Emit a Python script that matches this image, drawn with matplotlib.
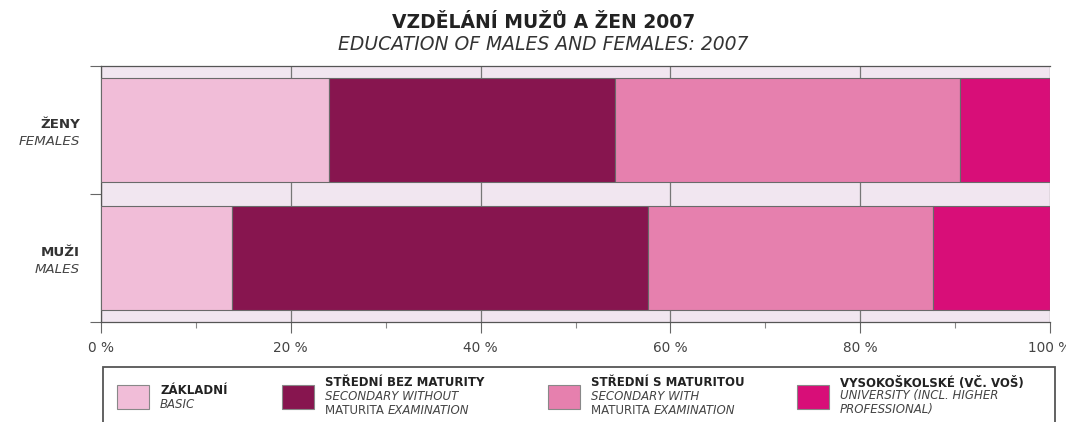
import matplotlib.pyplot as plt
from matplotlib.patches import Rectangle
from matplotlib.ticker import MultipleLocator

plt.rcParams['font.family'] = ['DejaVu Sans']

# Data (shares in %)
groups = ["MUŽI", "ŽENY"]
groups_en = ["MALES", "FEMALES"]
categories = ["ZÁKLADNÍ", "STŘEDNÍ BEZ MATURITY", "STŘEDNÍ S MATURITOU", "VYSOKOŠKOLSKÉ (VČ. VOŠ)"]
categories_en = [["BASIC"],
                 ["SECONDARY WITHOUT", "MATURITA EXAMINATION"],
                 ["SECONDARY WITH", "MATURITA EXAMINATION"],
                 ["UNIVERSITY (INCL. HIGHER", "PROFESSIONAL)"]]
males = [13.8, 43.8, 30.1, 12.3]
females = [24.0, 30.2, 36.3, 9.5]
colors = ["#f1bdd8", "#87154f", "#e680ae", "#d80e78"]

fig = plt.figure(figsize=(10.66, 4.22), dpi=100)
ax = fig.add_axes([101 / 1066, 1 - 322 / 422, 949 / 1066, 256 / 422])
ax.set_facecolor("#f1e6f0")

values = [males, females]
ypos = [0.5, 1.5]
for y, vals in zip(ypos, values):
    left = 0
    for v, c in zip(vals, colors):
        ax.barh(y, v, left=left, height=0.82, color=c, edgecolor="#6a6a6a",
                linewidth=0.8, zorder=3)
        left += v

ax.set_xlim(0, 100)
ax.set_ylim(0, 2)
ax.xaxis.set_major_locator(MultipleLocator(20))
ax.xaxis.set_minor_locator(MultipleLocator(10))
ax.set_xticklabels([f"{int(t)} %" for t in ax.get_xticks()])
ax.set_yticks([0, 1, 2])
ax.set_yticklabels([])
ax.grid(axis="x", which="major", color="#777777", linewidth=0.9, zorder=1)
ax.tick_params(axis="x", which="major", length=8, width=0.8, color="#666666",
               labelsize=9.8, labelcolor="#444444", pad=6)
ax.tick_params(axis="x", which="minor", length=4, width=0.8, color="#888888")
ax.tick_params(axis="y", length=8, width=0.8, color="#666666")
for s in ax.spines.values():
    s.set_color("#555555")
    s.set_linewidth(0.9)
ax.spines["right"].set_visible(False)

# group labels
for y, cz, en in zip(ypos, groups, groups_en):
    ax.text(-2.2, y + 0.045, cz, ha="right", va="center", fontsize=9.6, fontweight="bold",
            color="#333333")
    ax.text(-2.2, y - 0.09, en, ha="right", va="center", fontsize=9.6, style="italic",
            color="#444444")

# titles
fig.text(544 / 1066, 1 - 22 / 422, "VZDĚLÁNÍ MUŽŮ A ŽEN 2007", ha="center", va="center",
         fontsize=13.5, fontweight="bold", color="#222222")
fig.text(543 / 1066, 1 - 44 / 422, "EDUCATION OF MALES AND FEMALES: 2007", ha="center",
         va="center", fontsize=13.5, style="italic", color="#333333")

# legend box
W, H = 1066, 422
fig.patches.append(Rectangle((103 / W, -0.05), (1055 - 103) / W, 0.05 + (422 - 367) / H,
                             transform=fig.transFigure, facecolor="white",
                             edgecolor="#555555", linewidth=1.3))
sq_x = [117, 282, 548, 797]
fs = 8.5
for i, (cz, en, c) in enumerate(zip(categories, categories_en, colors)):
    x0 = sq_x[i]
    fig.patches.append(Rectangle((x0 / W, 1 - 409 / H), 32 / W, 24 / H,
                                 transform=fig.transFigure, facecolor=c,
                                 edgecolor="#888888", linewidth=0.8))
    tx = (x0 + 43) / W
    if len(en) == 1:
        fig.text(tx, 1 - 391 / H, cz, fontsize=fs, fontweight="bold", va="center",
                 color="#222222")
        fig.text(tx, 1 - 404 / H, en[0], fontsize=fs, style="italic", va="center",
                 color="#444444")
    else:
        fig.text(tx, 1 - 383 / H, cz, fontsize=fs, fontweight="bold", va="center",
                 color="#222222")
        fig.text(tx, 1 - 396 / H, en[0], fontsize=fs, style="italic", va="center",
                 color="#444444")
        if en[1].startswith("MATURITA "):
            t = fig.text(tx, 1 - 410 / H, "MATURITA ", fontsize=fs, va="center",
                         color="#444444")
            fig.canvas.draw()
            bb = t.get_window_extent()
            fig.text(bb.x1 / fig.bbox.width, 1 - 410 / H, "EXAMINATION", fontsize=fs,
                     style="italic", va="center", color="#444444")
        else:
            fig.text(tx, 1 - 410 / H, en[1], fontsize=fs, style="italic", va="center",
                     color="#444444")

fig.savefig("out.png", dpi=100)
